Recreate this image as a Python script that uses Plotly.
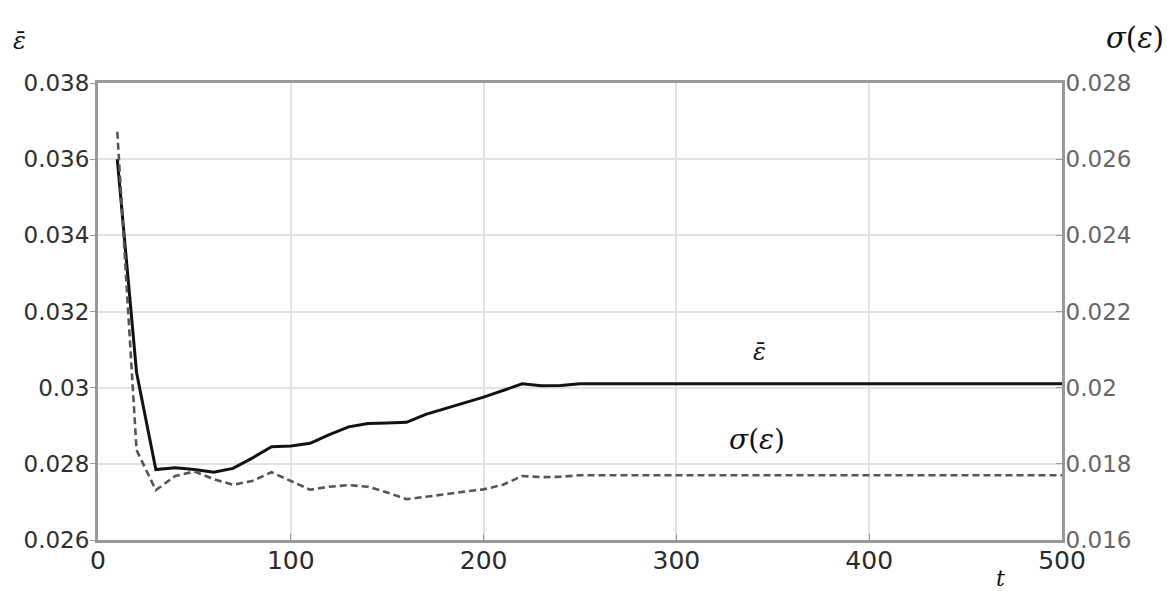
import plotly.graph_objects as go

# Time steps (sampling every 10 until the curves settle, then the end point)
t = [10, 20, 30, 40, 50, 60, 70, 80, 90, 100,
     110, 120, 130, 140, 150, 160, 170, 180, 190, 200,
     210, 220, 230, 240, 250, 500]

# Mean error (left axis)
eps_mean = [0.0360, 0.0304, 0.02785, 0.0279, 0.02785, 0.02778, 0.02788, 0.02815, 0.02845, 0.02847,
            0.02854, 0.02877, 0.02897, 0.02906, 0.02907, 0.02909, 0.02930, 0.02946, 0.02960, 0.02975,
            0.02993, 0.03010, 0.03005, 0.03006, 0.03010, 0.03010]

# Standard deviation of the error (right axis)
eps_std = [0.02672, 0.01836, 0.01731, 0.01768, 0.01780, 0.01760, 0.01745, 0.01755, 0.01778, 0.01755,
           0.01732, 0.01740, 0.01744, 0.01740, 0.01725, 0.01707, 0.01713, 0.01720, 0.01727, 0.01733,
           0.01745, 0.01768, 0.01765, 0.01766, 0.01770, 0.01770]

x_ticks = [0, 100, 200, 300, 400, 500]
y_left_vals = [0.026, 0.028, 0.030, 0.032, 0.034, 0.036, 0.038]
y_left_text = ["0.026", "0.028", "0.03", "0.032", "0.034", "0.036", "0.038"]
y_right_vals = [0.016, 0.018, 0.020, 0.022, 0.024, 0.026, 0.028]
y_right_text = ["0.016", "0.018", "0.02", "0.022", "0.024", "0.026", "0.028"]

fig = go.Figure()
fig.add_trace(go.Scatter(x=t, y=eps_std, mode="lines", yaxis="y2",
                         line=dict(color="#555555", width=2.6, dash="7px,4px"),
                         showlegend=False))
fig.add_trace(go.Scatter(x=t, y=eps_mean, mode="lines", yaxis="y",
                         line=dict(color="#111111", width=3),
                         showlegend=False))

axis_line = "#999999"
grid = "#e2e2e2"

fig.update_layout(
    width=1174, height=591,
    margin=dict(l=98, r=112, t=83, b=51),
    paper_bgcolor="white", plot_bgcolor="white",
    xaxis=dict(range=[0, 500], tickvals=x_ticks, ticktext=[str(v) for v in x_ticks],
               showgrid=True, gridcolor=grid, gridwidth=1.5,
               showline=True, linecolor=axis_line, linewidth=3, mirror=True,
               ticks="inside", ticklen=6, tickcolor=axis_line,
               tickfont=dict(family="DejaVu Sans", size=25, color="#2a2a2a"),
               ticklabelstandoff=-4, zeroline=False),
    yaxis=dict(range=[0.026, 0.038], tickvals=y_left_vals, ticktext=y_left_text,
               showgrid=True, gridcolor=grid, gridwidth=1.5,
               showline=True, linecolor=axis_line, linewidth=3,
               ticks="outside", ticklen=5, tickcolor=axis_line,
               tickfont=dict(family="DejaVu Sans", size=23, color="#2f2f2f"),
               ticklabelstandoff=-4, zeroline=False),
    yaxis2=dict(range=[0.016, 0.028], tickvals=y_right_vals, ticktext=y_right_text,
                overlaying="y", side="right", showgrid=False,
                showline=True, linecolor=axis_line, linewidth=3,
                ticks="inside", ticklen=6, tickcolor=axis_line,
                tickfont=dict(family="DejaVu Sans", size=23, color="#666666"),
                ticklabelstandoff=-4, zeroline=False),
)

math_font = dict(family="DejaVu Serif", size=24, color="#111111")
fig.add_annotation(x=-0.09, y=1.128, xref="paper", yref="paper", text="<i>ε̄</i>",
                   showarrow=False, font=math_font)
fig.add_annotation(x=1.108, y=1.14, xref="paper", yref="paper", xanchor="right",
                   text="<i>σ</i>(<i>ε</i>)", showarrow=False,
                   font=dict(family="DejaVu Serif", size=29, color="#111111"))
fig.add_annotation(x=343, y=0.03094, xref="x", yref="y", text="<i>ε̄</i>",
                   showarrow=False, font=math_font)
fig.add_annotation(x=342, y=0.02863, xref="x", yref="y",
                   text="<i>σ</i>(<i>ε</i>)", showarrow=False,
                   font=dict(family="DejaVu Serif", size=28, color="#111111"))
fig.add_annotation(x=0.943, y=-0.115, xref="paper", yref="paper", text="<i>t</i>",
                   showarrow=False, font=dict(family="DejaVu Serif", size=22, color="#111111"))

fig.write_html("out.html")
